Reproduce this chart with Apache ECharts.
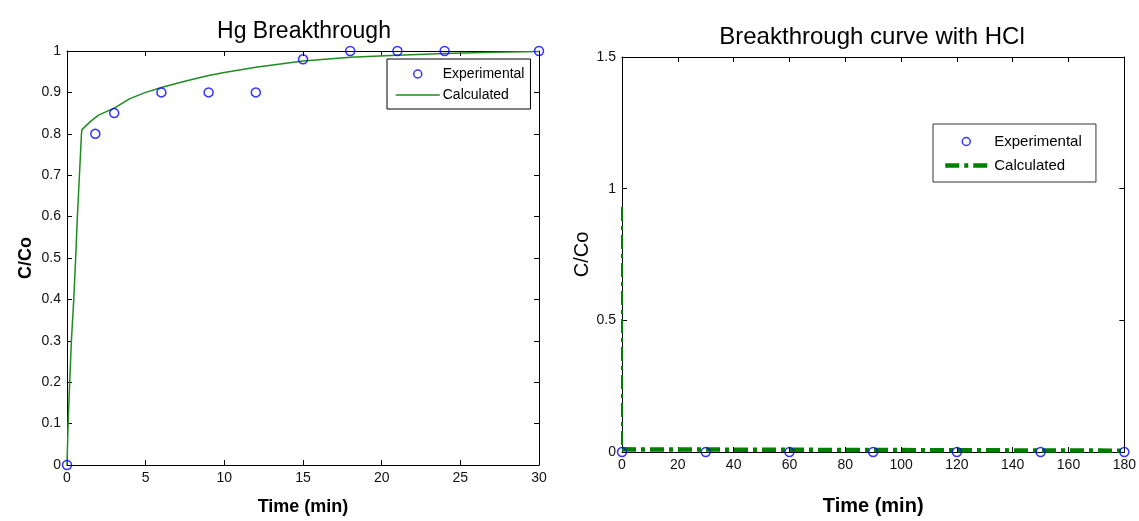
<!DOCTYPE html>
<html>
<head>
<meta charset="utf-8">
<title>Breakthrough curves</title>
<script src="https://cdn.jsdelivr.net/npm/echarts@6/dist/echarts.min.js"></script>
<style>
  html, body { margin: 0; padding: 0; background: #fff; }
  #chart { width: 1139px; height: 521px; }
</style>
</head>
<body>
<div id="chart"></div>
<script>
// Hg breakthrough: measured points and model curve (time in min, C/Co)
const hgExpTime = [0, 1.8, 3, 6, 9, 12, 15, 18, 21, 24, 30];
const hgExpC = [0, 0.8, 0.85, 0.9, 0.9, 0.9, 0.98, 1.0, 1.0, 1.0, 1.0];
const hgCalcTime = [0, 0.07, 0.17, 0.28, 0.43, 0.55, 0.66, 0.79, 0.92, 0.95, 1.5, 2.0, 3, 4, 5, 6, 7, 8, 9, 10, 12, 15, 18, 21, 24, 27, 30];
const hgCalcC = [0, 0.1, 0.2, 0.3, 0.4, 0.5, 0.6, 0.7, 0.8, 0.81, 0.83, 0.845, 0.862, 0.885, 0.9, 0.912, 0.922, 0.932, 0.941, 0.948, 0.961, 0.976, 0.985, 0.99, 0.994, 0.997, 0.999];

// Breakthrough with HCl
const hclExpTime = [0, 30, 60, 90, 120, 150, 180];
const hclExpC = [0, 0, 0, 0, 0, 0, 0];
const hclCalcTime = [0, 0, 180];
const hclCalcC = [0.93, 0.01, 0.005];

// axis ranges and ticks
const leftX = { min: 0, max: 30, interval: 5 };
const leftY = { min: 0, max: 1, interval: 0.1 };
const rightX = { min: 0, max: 180, interval: 20 };
const rightY = { min: 0, max: 1.5, interval: 0.5 };

const pairs = (xs, ys) => xs.map((x, i) => [x, ys[i]]);

const FONT = '"Liberation Sans", Arial, sans-serif';
const BLUE = '#0000ff';
const GREEN = '#1e8c1e';
const DARK_GREEN = '#008000';
const DASH_DOT = [14, 5, 4, 5];

function frameAxis(gridIndex, range, pos, opts) {
  const show = opts && opts.labels;
  return Object.assign({
    type: 'value',
    gridIndex,
    position: pos,
    min: range.min,
    max: range.max,
    interval: range.interval,
    axisLine: { show: true, onZero: false, lineStyle: { color: '#000', width: 1 } },
    axisTick: { show: true, inside: true, length: 5, lineStyle: { color: '#000' } },
    splitLine: { show: false },
    axisLabel: {
      show: !!show,
      color: '#111',
      fontFamily: FONT,
      fontSize: 14,
      margin: 6,
      formatter: v => String(+v.toFixed(2))
    }
  }, opts && opts.extra);
}

const nameStyle = { color: '#000', fontFamily: FONT, fontSize: 18, fontWeight: 'bold' };
const hollowCircle = { color: 'transparent', borderColor: BLUE, borderWidth: 1.5 };

const option = {
  animation: false,
  backgroundColor: '#fff',
  title: [
    {
      text: 'Hg Breakthrough', left: 299, top: 15, textAlign: 'center',
      textStyle: { fontFamily: FONT, fontSize: 23, fontWeight: 'normal', color: '#000' }
    },
    {
      text: 'Breakthrough curve with HCl', left: 867, top: 20, textAlign: 'center',
      textStyle: { fontFamily: FONT, fontSize: 24, fontWeight: 'normal', color: '#000' }
    }
  ],
  grid: [
    { left: 67, top: 51, width: 472, height: 414 },
    { left: 622, top: 57, width: 506, height: 408 }
  ],
  xAxis: [
    frameAxis(0, leftX, 'bottom', { labels: true, extra: {
      name: 'Time (min)', nameLocation: 'middle', nameGap: 33, nameTextStyle: nameStyle } }),
    frameAxis(0, leftX, 'top'),
    frameAxis(1, rightX, 'bottom', { labels: true, extra: {
      name: 'Time (min)', nameLocation: 'middle', nameGap: 44, nameTextStyle: Object.assign({}, nameStyle, { fontSize: 20 }) } }),
    frameAxis(1, rightX, 'top')
  ],
  yAxis: [
    frameAxis(0, leftY, 'left', { labels: true, extra: {
      name: 'C/Co', nameLocation: 'middle', nameGap: 32, nameTextStyle: nameStyle } }),
    frameAxis(0, leftY, 'right'),
    frameAxis(1, rightY, 'left', { labels: true, extra: {
      name: 'C/Co', nameLocation: 'middle', nameGap: 14, nameTextStyle: Object.assign({}, nameStyle, { fontWeight: 'normal', fontSize: 20 }) } }),
    frameAxis(1, rightY, 'right')
  ],
  legend: [
    {
      left: 387, top: 59, orient: 'vertical',
      padding: [8, 6, 7, 8], itemGap: 7, itemWidth: 44, itemHeight: 8,
      borderColor: '#000', borderWidth: 1, backgroundColor: '#fff',
      textStyle: { fontFamily: FONT, fontSize: 14, color: '#000', padding: [0, 0, 0, -2] },
      data: [
        { name: 'Experimental', icon: 'circle', itemStyle: hollowCircle },
        { name: 'Calculated', itemStyle: { opacity: 0 }, lineStyle: { color: GREEN, width: 1.5 } }
      ]
    },
    {
      left: 933, top: 124, orient: 'vertical',
      padding: [10, 10, 9, 10], itemGap: 9, itemWidth: 42, itemHeight: 8,
      borderColor: '#333', borderWidth: 1, backgroundColor: '#fff',
      textStyle: { fontFamily: FONT, fontSize: 15, color: '#000', padding: [0, 0, 0, 2] },
      data: [
        { name: 'Experimental ', icon: 'circle', itemStyle: hollowCircle },
        { name: 'Calculated ', itemStyle: { opacity: 0 }, lineStyle: { color: DARK_GREEN, width: 4.5, type: DASH_DOT } }
      ]
    }
  ],
  series: [
    {
      name: 'Calculated', type: 'line', xAxisIndex: 0, yAxisIndex: 0,
      data: pairs(hgCalcTime, hgCalcC), showSymbol: false, symbol: 'none',
      lineStyle: { color: GREEN, width: 1.5 }, itemStyle: { color: GREEN }, z: 2
    },
    {
      name: 'Experimental', type: 'scatter', xAxisIndex: 0, yAxisIndex: 0,
      data: pairs(hgExpTime, hgExpC), symbol: 'circle', symbolSize: 9, clip: false,
      itemStyle: hollowCircle, z: 3
    },
    {
      name: 'Calculated ', type: 'line', xAxisIndex: 2, yAxisIndex: 2,
      data: pairs(hclCalcTime, hclCalcC).slice(1), symbol: 'none',
      lineStyle: { color: DARK_GREEN, width: 4.5, type: DASH_DOT }, itemStyle: { color: DARK_GREEN }, z: 2
    },
    {
      name: 'Calculated ', type: 'line', xAxisIndex: 2, yAxisIndex: 2,
      data: pairs(hclCalcTime, hclCalcC).slice(0, 2), symbol: 'none',
      lineStyle: { color: DARK_GREEN, width: 2, type: DASH_DOT }, itemStyle: { color: DARK_GREEN }, z: 2
    },
    {
      name: 'Experimental ', type: 'scatter', xAxisIndex: 2, yAxisIndex: 2,
      data: pairs(hclExpTime, hclExpC), symbol: 'circle', symbolSize: 9, clip: false,
      itemStyle: hollowCircle, z: 3
    }
  ]
};

const chart = echarts.init(document.getElementById('chart'), null, { renderer: 'canvas' });
chart.setOption(option);
</script>
</body>
</html>
